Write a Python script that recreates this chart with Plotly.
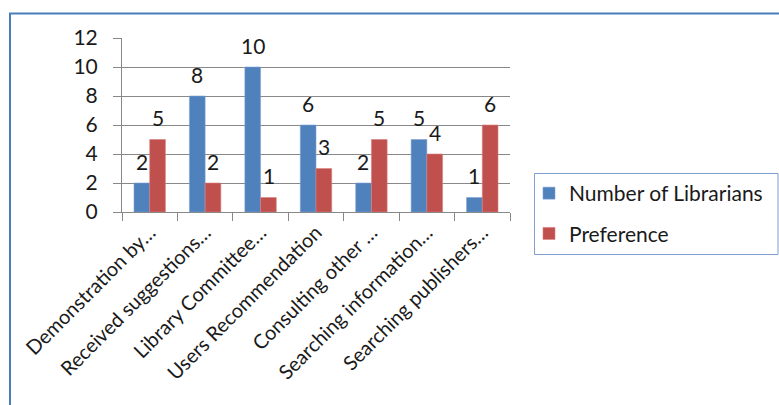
import plotly.graph_objects as go

categories = [
    "Demonstration by…",
    "Received suggestions…",
    "Library Committee…",
    "Users Recommendation",
    "Consulting other …",
    "Searching information…",
    "Searching publishers…",
]
librarians = [2, 8, 10, 6, 2, 5, 1]
preference = [5, 2, 1, 3, 5, 4, 6]

BLUE = "#4F81BD"
RED = "#C0504D"
GRID = "#888888"
FONT = "Lato"
TEXT = "#1a1a1a"

W, H = 779, 405
L, R, T, B = 122, 510, 38, 212  # plot area in pixels


def px(x):
    return (x - L) / (R - L)


def py(y):
    return (B - y) / (B - T)


fig = go.Figure()
fig.add_trace(go.Bar(x=categories, y=librarians, name="Number of Librarians",
                     marker=dict(color=BLUE, line=dict(color="#7FA3D0", width=0.6)),
                     legendgroup="a"))
fig.add_trace(go.Bar(x=categories, y=preference, name="Preference",
                     marker=dict(color=RED, line=dict(color="#D98280", width=0.6)),
                     legendgroup="b"))

annotations = []
for series, shift in ((librarians, -8), (preference, 8)):
    for cat, v in zip(categories, series):
        annotations.append(dict(x=cat, y=v, xref="x", yref="y", text=str(v),
                                showarrow=False, xshift=shift, yshift=22,
                                yanchor="middle",
                                font=dict(family=FONT, size=21, color=TEXT)))

shapes = [
    # outer chart frame
    dict(type="rect", xref="paper", yref="paper",
         x0=px(10), x1=px(790), y0=py(420), y1=py(13.5),
         line=dict(color="#4A7EBB", width=2)),
    # legend frame
    dict(type="rect", xref="paper", yref="paper",
         x0=px(534.5), x1=px(778), y0=py(254.5), y1=py(173.5),
         line=dict(color="#7FA0CC", width=1)),
]

fig.update_layout(
    width=W, height=H,
    margin=dict(l=L, r=W - R, t=T, b=H - B, pad=0, autoexpand=False),
    paper_bgcolor="white", plot_bgcolor="white",
    barmode="group", bargap=0.433, bargroupgap=0,
    font=dict(family=FONT, size=21, color=TEXT),
    showlegend=True,
    legend=dict(x=px(529), y=py(173), xanchor="left", yanchor="top",
                bgcolor="rgba(0,0,0,0)", borderwidth=0,
                font=dict(family=FONT, size=21, color=TEXT),
                tracegroupgap=10, traceorder="grouped",
                itemwidth=30),
    annotations=annotations,
    shapes=shapes,
)
fig.update_xaxes(showgrid=False, showline=True, linecolor=GRID, linewidth=1,
                 ticks="outside", tickson="boundaries", ticklen=8, tickcolor=GRID,
                 tickangle=-45, automargin=False,
                 tickfont=dict(family=FONT, size=20, color=TEXT))
fig.update_yaxes(range=[0, 12], dtick=2, showgrid=True, gridcolor=GRID, gridwidth=1,
                 showline=True, linecolor=GRID, linewidth=1,
                 ticks="outside", ticklen=8, tickcolor=GRID,
                 ticklabelstandoff=11, zeroline=False, automargin=False,
                 tickfont=dict(family=FONT, size=21, color=TEXT))

fig.write_html("out.html")
